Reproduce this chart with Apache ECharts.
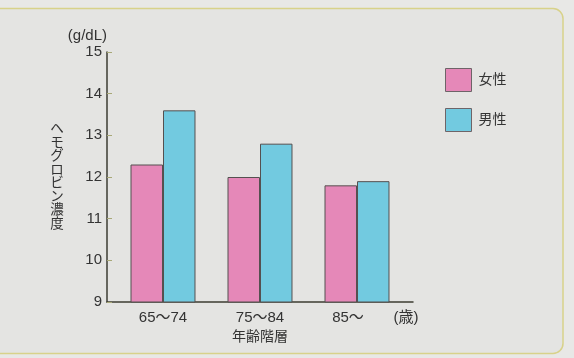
<!DOCTYPE html>
<html>
<head>
<meta charset="utf-8">
<script src="https://cdn.jsdelivr.net/npm/echarts@6/dist/echarts.min.js"></script>
<style>
  html, body { margin: 0; padding: 0; background: #e8e8e6; }
  #chart { width: 574px; height: 358px; }
</style>
</head>
<body>
<div id="chart"></div>
<script>
// Hemoglobin concentration by age group and sex
const ageGroups = ['65～74', '75～84', '85～'];
const female = [12.3, 12.0, 11.8];
const male = [13.6, 12.8, 11.9];
const seriesNames = ['女性', '男性'];
const yAxisName = 'ヘモグロビン濃度';

const FONT = "'Liberation Sans', 'Noto Sans CJK JP', sans-serif";
const TEXT = '#333333';
const AXIS = '#3c3c32';

// the open-ended last group label sits a little left of its band centre
const categoryData = ageGroups.map((g, i) =>
  i === ageGroups.length - 1 ? { value: g, textStyle: { padding: [0, 18, 0, 0] } } : g
);

const chart = echarts.init(document.getElementById('chart'), null, { renderer: 'canvas' });

chart.setOption({
  backgroundColor: '#e8e8e6',
  textStyle: { fontFamily: FONT, color: TEXT },
  animation: false,
  graphic: [
    {
      type: 'rect',
      z: -10,
      silent: true,
      shape: { x: -12, y: 8.5, width: 575, height: 345, r: 10 },
      style: { fill: '#e4e4e2', stroke: '#d8d28a', lineWidth: 1.5 }
    }
  ],
  legend: {
    orient: 'vertical',
    left: 445,
    top: 68,
    padding: 0,
    itemWidth: 26,
    itemHeight: 23,
    itemGap: 16,
    icon: 'rect',
    itemStyle: { borderWidth: 1, borderColor: '#6e6468' },
    textStyle: { fontSize: 14, color: TEXT, fontFamily: FONT, padding: [0, 0, 0, 2] },
    data: seriesNames
  },
  grid: [
    // frame grid: carries the visible axis lines
    { left: 107, right: 161, top: 52, bottom: 56 },
    // bar grid: category bands for the bars
    { left: 114.5, right: 168.5, top: 52, bottom: 56 }
  ],
  xAxis: [
    {
      gridIndex: 0,
      type: 'category',
      data: ageGroups,
      axisLine: { lineStyle: { color: AXIS, width: 1.5 } },
      axisTick: { show: false },
      axisLabel: { show: false },
      splitLine: { show: false },
      name: '(歳)',
      nameLocation: 'end',
      nameGap: -7,
      nameTextStyle: {
        fontSize: 15, color: TEXT, fontFamily: FONT,
        align: 'center', verticalAlign: 'top', padding: [8, 0, 0, 0]
      }
    },
    {
      gridIndex: 1,
      type: 'category',
      data: categoryData,
      axisLine: { show: false },
      axisTick: { show: false },
      axisLabel: { fontSize: 15, color: TEXT, margin: 8, fontFamily: FONT },
      splitLine: { show: false },
      name: '年齢階層',
      nameLocation: 'middle',
      nameGap: 27,
      nameTextStyle: { fontSize: 14, color: TEXT, fontFamily: FONT, verticalAlign: 'top' }
    }
  ],
  yAxis: [
    {
      gridIndex: 0,
      type: 'value',
      min: 9,
      max: 15,
      interval: 1,
      axisLine: { show: true, lineStyle: { color: AXIS, width: 1.5 } },
      axisTick: { show: true, inside: true, length: 5, lineStyle: { color: '#a8a878', width: 1 } },
      axisLabel: { fontSize: 15, color: TEXT, margin: 5, fontFamily: FONT },
      splitLine: { show: false },
      name: yAxisName.split('').join('\n'),
      nameLocation: 'middle',
      nameRotate: 0,
      nameGap: 50,
      nameTextStyle: {
        fontSize: 13.5, lineHeight: 13.5, color: TEXT, fontFamily: FONT,
        align: 'center', verticalAlign: 'middle'
      }
    },
    {
      gridIndex: 1,
      type: 'value',
      min: 9,
      max: 15,
      interval: 1,
      offset: 7.5,
      axisLine: { show: false },
      axisTick: { show: false },
      axisLabel: { show: false },
      splitLine: { show: false },
      name: '(g/dL)',
      nameLocation: 'end',
      nameGap: 16,
      nameTextStyle: {
        fontSize: 15, color: TEXT, fontFamily: FONT,
        align: 'right', verticalAlign: 'middle'
      }
    }
  ],
  series: [
    {
      name: seriesNames[0],
      type: 'bar',
      xAxisIndex: 1,
      yAxisIndex: 1,
      data: female,
      barGap: '0%',
      barCategoryGap: '33%',
      itemStyle: { color: '#e588b8', borderColor: '#555050', borderWidth: 1 }
    },
    {
      name: seriesNames[1],
      type: 'bar',
      xAxisIndex: 1,
      yAxisIndex: 1,
      data: male,
      barGap: '0%',
      barCategoryGap: '33%',
      itemStyle: { color: '#72cae0', borderColor: '#555050', borderWidth: 1 }
    }
  ]
});
</script>
</body>
</html>
